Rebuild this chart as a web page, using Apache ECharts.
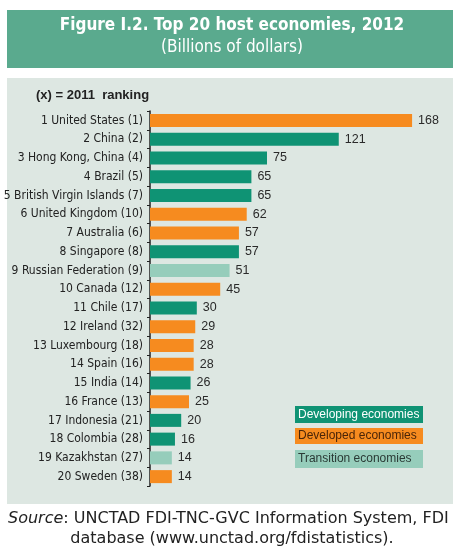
<!DOCTYPE html>
<html><head><meta charset="utf-8">
<script src="https://cdn.jsdelivr.net/npm/echarts@6/dist/echarts.min.js"></script>
<style>html,body{margin:0;padding:0;background:#fff;}#c{width:464px;height:560px;}</style>
</head><body><div id="c"></div>
<script>
const categories = ["1 United States (1)","2 China (2)","3 Hong Kong, China (4)","4 Brazil (5)","5 British Virgin Islands (7)","6 United Kingdom (10)","7 Australia (6)","8 Singapore (8)","9 Russian Federation (9)","10 Canada (12)","11 Chile (17)","12 Ireland (32)","13 Luxembourg (18)","14 Spain (16)","15 India (14)","16 France (13)","17 Indonesia (21)","18 Colombia (28)","19 Kazakhstan (27)","20 Sweden (38)"];
const values = [168,121,75,65,65,62,57,57,51,45,30,29,28,28,26,25,20,16,14,14];
const groups = ["dv","dg","dg","dg","dg","dv","dv","dg","tr","dv","dg","dv","dv","dv","dg","dv","dg","dg","tr","dv"];
const groupNames = {dg:"Developing economies", dv:"Developed economies", tr:"Transition economies"};
const colors = {dg:"#0f9374", dv:"#f68b1f", tr:"#96cdbb"};
const legendText = {dg:"#ffffff", dv:"#4a2508", tr:"#2a3a35"};

const chart = echarts.init(document.getElementById('c'), null, {renderer:'canvas'});
const sans = '"Liberation Sans", Arial, sans-serif';
const legendOrder = ["dg","dv","tr"];
const legendGraphics = legendOrder.map((k,i)=>({
  type:'rect', left:295, top:[406,428,450][i], shape:{width:128,height:[17,16,18][i]},
  style:{fill:colors[k]}, z:10,
  textContent:{style:{text:groupNames[k], fill:legendText[k], font:'12px '+sans}, z:11},
  textConfig:{position:'insideLeft', distance:3}
}));
chart.setOption({
  animation:false,
  grid:{left:150, top:111, width:312, height:375, containLabel:false, outerBoundsMode:'none'},
  xAxis:{type:'value', min:0, max:200, show:false},
  yAxis:{type:'category', data:categories, inverse:true,
    axisLine:{show:true, lineStyle:{color:'#222', width:1.5}},
    axisTick:{show:true, length:3, lineStyle:{color:'#222'}},
    axisLabel:{interval:0, color:'#222', fontSize:12, fontWeight:'condensed', fontFamily:'"DejaVu Sans"', margin:7}},
  series:[{type:'bar', barWidth:13, z:5,
    data:values.map((v,i)=>({value:v, itemStyle:{color:colors[groups[i]]}})),
    label:{show:true, position:'right', distance:6, color:'#2a2a2a', fontSize:12.5, fontFamily:sans}
  }],
  graphic:[
    {type:'rect', left:7, top:10, shape:{width:446,height:58}, style:{fill:'#5aaa8e'}, z:-10},
    {type:'rect', left:7, top:78, shape:{width:446,height:426}, style:{fill:'#dde7e2'}, z:-10},
    {type:'text', left:'center', top:17, style:{text:'Figure I.2. Top 20 host economies, 2012', fill:'#fff', font:'bold condensed 17px "DejaVu Sans"'}},
    {type:'text', left:'center', top:39, style:{text:'(Billions of dollars)', fill:'#fff', font:'condensed 17px "DejaVu Sans"'}},
    {type:'text', left:36, top:89, style:{text:'(x) = 2011  ranking', fill:'#222', font:'bold 13px '+sans}},
    {type:'text', left:8, top:511, style:{text:'{i|Source}: UNCTAD FDI-TNC-GVC Information System, FDI', fill:'#222', font:'16px "DejaVu Sans"',
      rich:{i:{fontStyle:'italic', fontSize:16, fontFamily:'"DejaVu Sans"', fill:'#222'}}}},
    {type:'text', left:'center', top:531, style:{text:'database (www.unctad.org/fdistatistics).', fill:'#222', font:'16px "DejaVu Sans"'}}
  ].concat(legendGraphics)
});
</script></body></html>
